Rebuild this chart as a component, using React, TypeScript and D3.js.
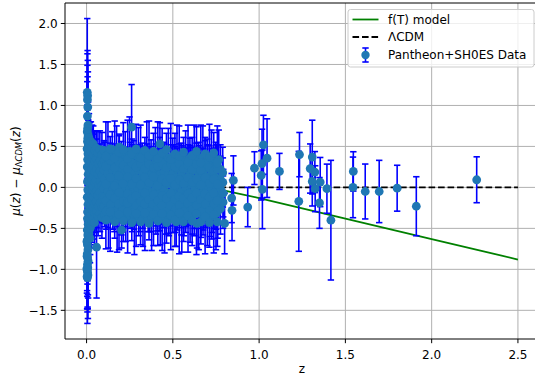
import React from 'react';
import * as d3 from 'd3';

const W = 535;
const H = 379;

const xTicks = [0, 0.5, 1.0, 1.5, 2.0, 2.5];
const yTicks = [-1.5, -1.0, -0.5, 0, 0.5, 1.0, 1.5, 2.0];

// f(T) model residual curve (hidden below the data for z < 0.8)
const modelZ = [0, 0.2, 0.4, 0.6, 0.8, 1.0, 1.5, 2.0, 2.5];
const modelMu = [0, 0.01, 0.01, -0.01, -0.04, -0.13, -0.38, -0.63, -0.88];

const lcdmZ = [0, 2.5];
const lcdmMu = [0, 0];

type P = [number, number, number]; // [z, mu - mu_LCDM, error]

// very low redshift column (z < 0.012)
const columnSNe: P[] = [
  [0.004, 1.16, 0.9], [0.006, 1.12, 0.55], [0.005, 1.07, 0.56], [0.007, 0.98, 0.57],
  [0.005, 0.87, 0.62], [0.008, 0.76, 0.65], [0.006, 0.72, 0.63], [0.004, 0.68, 0.61],
  [0.009, 0.64, 0.4], [0.007, 0.6, 0.35], [0.005, 0.56, 0.45], [0.01, 0.52, 0.3],
  [0.003, 0.47, 0.38], [0.008, 0.41, 0.42], [0.006, 0.34, 0.3], [0.004, 0.25, 0.35],
  [0.009, 0.16, 0.28], [0.005, 0.07, 0.32], [0.007, -0.03, 0.3], [0.004, -0.12, 0.34],
  [0.008, -0.21, 0.3], [0.006, -0.3, 0.36], [0.005, -0.38, 0.4], [0.009, -0.45, 0.38],
  [0.004, -0.52, 0.42], [0.007, -0.58, 0.45], [0.006, -0.64, 0.5], [0.005, -0.7, 0.48],
  [0.008, -0.76, 0.55], [0.004, -0.81, 0.52], [0.006, -0.86, 0.6], [0.009, -0.9, 0.45],
  [0.005, -0.94, 0.58], [0.007, -0.98, 0.5], [0.004, -1.01, 0.47], [0.006, -1.04, 0.44],
  [0.008, -1.07, 0.53], [0.005, -1.1, 0.56], [0.003, -1.09, 0.39], [0.002, -0.99, 0.3],
  [0.003, -0.84, 0.42], [0.002, -0.66, 0.36],
];

// 0.012 < z < 0.1
const lowSNe: P[] = [
  [0.014, 0.6, 0.3], [0.013, 0.47, 0.28], [0.015, 0.35, 0.25], [0.014, 0.22, 0.22], [0.016, 0.09, 0.24],
  [0.013, -0.04, 0.26], [0.015, -0.17, 0.23], [0.014, -0.3, 0.28], [0.016, -0.43, 0.3], [0.013, -0.56, 0.35],
  [0.019, 0.53, 0.26], [0.021, 0.41, 0.3], [0.02, 0.28, 0.22], [0.018, 0.15, 0.2], [0.021, 0.02, 0.25],
  [0.019, -0.11, 0.22], [0.02, -0.24, 0.27], [0.018, -0.37, 0.24], [0.021, -0.5, 0.32], [0.02, -0.62, 0.3],
  [0.025, 0.56, 0.24], [0.027, 0.44, 0.22], [0.026, 0.31, 0.26], [0.024, 0.18, 0.2], [0.027, 0.05, 0.23],
  [0.025, -0.08, 0.21], [0.026, -0.21, 0.25], [0.024, -0.33, 0.22], [0.027, -0.46, 0.28],
  [0.032, 0.49, 0.27], [0.034, 0.36, 0.21], [0.031, 0.23, 0.24], [0.033, 0.1, 0.2], [0.035, -0.03, 0.22],
  [0.032, -0.16, 0.19], [0.034, -0.28, 0.24], [0.031, -0.41, 0.26],
  [0.039, 0.53, 0.22], [0.041, 0.4, 0.25], [0.04, 0.27, 0.19], [0.042, 0.14, 0.21], [0.038, 0.01, 0.18],
  [0.041, -0.12, 0.22], [0.039, -0.25, 0.2], [0.042, -0.38, 0.25],
  [0.047, 0.45, 0.24], [0.049, 0.32, 0.2], [0.046, 0.19, 0.22], [0.048, 0.06, 0.18], [0.05, -0.07, 0.21],
  [0.047, -0.2, 0.19], [0.049, -0.32, 0.23], [0.046, -0.43, 0.27],
  [0.056, 0.48, 0.21], [0.058, 0.35, 0.24], [0.057, 0.22, 0.19], [0.055, 0.09, 0.2], [0.059, -0.04, 0.18],
  [0.056, -0.17, 0.22], [0.058, -0.29, 0.2], [0.058, -0.73, 0.62],
  [0.066, 0.42, 0.26], [0.068, 0.29, 0.19], [0.067, 0.16, 0.21], [0.069, 0.03, 0.17], [0.066, -0.1, 0.2],
  [0.068, -0.23, 0.18], [0.067, -0.35, 0.24],
  [0.077, 0.46, 0.23], [0.079, 0.33, 0.2], [0.078, 0.2, 0.18], [0.08, 0.07, 0.19], [0.077, -0.06, 0.17],
  [0.079, -0.19, 0.2], [0.078, -0.32, 0.22],
  [0.089, 0.4, 0.27], [0.091, 0.28, 0.21], [0.09, 0.15, 0.19], [0.088, 0.02, 0.18], [0.092, -0.11, 0.2],
  [0.09, -0.24, 0.19], [0.089, -0.37, 0.25],
];

// 0.1 < z < 0.5
const midSNe: P[] = [
  [0.101, 0.45, 0.12], [0.103, 0.33, 0.22], [0.102, 0.21, 0.18], [0.104, 0.1, 0.2], [0.101, -0.01, 0.17], [0.103, -0.12, 0.19], [0.102, -0.23, 0.21], [0.104, -0.34, 0.14],
  [0.124, 0.4, 0.4], [0.126, 0.28, 0.2], [0.125, 0.17, 0.18], [0.127, 0.06, 0.16], [0.124, -0.05, 0.19], [0.126, -0.16, 0.17], [0.125, -0.27, 0.22], [0.127, -0.38, 0.36],
  [0.149, 0.46, 0.22], [0.151, 0.34, 0.19], [0.15, 0.22, 0.21], [0.152, 0.11, 0.17], [0.149, 0.0, 0.18], [0.151, -0.11, 0.16], [0.15, -0.22, 0.2], [0.152, -0.33, 0.18],
  [0.174, 0.41, 0.34], [0.176, 0.29, 0.22], [0.175, 0.17, 0.18], [0.177, 0.06, 0.17], [0.174, -0.05, 0.16], [0.176, -0.16, 0.19], [0.175, -0.27, 0.21], [0.177, -0.37, 0.42],
  [0.19, 0.49, 0.16], [0.201, 0.35, 0.21], [0.2, 0.23, 0.19], [0.202, 0.11, 0.18], [0.199, 0.0, 0.17], [0.201, -0.11, 0.19], [0.2, -0.22, 0.2], [0.203, -0.52, 0.22], [0.202, -0.33, 0.25],
  [0.224, 0.4, 0.28], [0.226, 0.29, 0.2], [0.225, 0.18, 0.17], [0.227, 0.07, 0.18], [0.224, -0.04, 0.16], [0.226, -0.15, 0.19], [0.225, -0.26, 0.22], [0.227, -0.36, 0.3],
  [0.249, 0.44, 0.42], [0.251, 0.33, 0.22], [0.25, 0.21, 0.18], [0.252, 0.1, 0.19], [0.249, -0.01, 0.17], [0.251, -0.12, 0.2], [0.25, -0.23, 0.18], [0.252, -0.34, 0.16],
  [0.261, 0.735, 0.52],
  [0.274, 0.39, 0.18], [0.276, 0.28, 0.21], [0.275, 0.17, 0.19], [0.277, 0.06, 0.18], [0.274, -0.05, 0.17], [0.276, -0.16, 0.19], [0.275, -0.27, 0.24], [0.277, -0.37, 0.45],
  [0.3, 0.43, 0.3], [0.301, 0.32, 0.2], [0.3, 0.21, 0.19], [0.302, 0.1, 0.17], [0.299, -0.01, 0.18], [0.301, -0.12, 0.2], [0.3, -0.23, 0.21], [0.302, -0.35, 0.24],
  [0.324, 0.4, 0.14], [0.326, 0.28, 0.22], [0.325, 0.17, 0.18], [0.327, 0.06, 0.19], [0.324, -0.05, 0.17], [0.326, -0.16, 0.2], [0.325, -0.27, 0.23], [0.327, -0.38, 0.34],
  [0.349, 0.42, 0.38], [0.351, 0.32, 0.21], [0.35, 0.21, 0.2], [0.352, 0.1, 0.18], [0.349, -0.01, 0.19], [0.351, -0.12, 0.2], [0.35, -0.23, 0.22], [0.357, -0.39, 0.15],
  [0.374, 0.38, 0.2], [0.376, 0.27, 0.23], [0.375, 0.16, 0.19], [0.377, 0.05, 0.18], [0.374, -0.06, 0.2], [0.376, -0.17, 0.21], [0.375, -0.28, 0.26], [0.377, -0.37, 0.4],
  [0.399, 0.41, 0.32], [0.401, 0.31, 0.22], [0.4, 0.2, 0.2], [0.402, 0.09, 0.19], [0.399, -0.02, 0.18], [0.401, -0.13, 0.21], [0.4, -0.24, 0.23], [0.402, -0.35, 0.22],
  [0.425, 0.53, 0.26],
  [0.424, 0.37, 0.24], [0.426, 0.27, 0.21], [0.425, 0.16, 0.2], [0.427, 0.05, 0.19], [0.424, -0.06, 0.18], [0.426, -0.17, 0.22], [0.425, -0.28, 0.25], [0.427, -0.38, 0.32],
  [0.449, 0.4, 0.15], [0.451, 0.3, 0.23], [0.45, 0.19, 0.21], [0.452, 0.08, 0.19], [0.449, -0.03, 0.2], [0.451, -0.14, 0.22], [0.45, -0.25, 0.24], [0.452, -0.36, 0.44],
  [0.474, 0.36, 0.36], [0.476, 0.26, 0.22], [0.475, 0.15, 0.21], [0.477, 0.04, 0.2], [0.474, -0.07, 0.19], [0.476, -0.18, 0.23], [0.475, -0.29, 0.27], [0.477, -0.39, 0.2],
];

// 0.5 < z < 0.8
const highSNe: P[] = [
  [0.499, 0.38, 0.22], [0.501, 0.28, 0.24], [0.5, 0.17, 0.22], [0.502, 0.06, 0.21], [0.499, -0.05, 0.2], [0.501, -0.16, 0.23], [0.5, -0.27, 0.28], [0.52, -0.42, 0.3],
  [0.524, 0.34, 0.42], [0.526, 0.23, 0.25], [0.525, 0.12, 0.22], [0.527, 0.01, 0.21], [0.524, -0.1, 0.22], [0.526, -0.21, 0.25], [0.525, -0.32, 0.2],
  [0.549, 0.37, 0.17], [0.551, 0.27, 0.24], [0.55, 0.16, 0.23], [0.552, 0.05, 0.22], [0.549, -0.06, 0.21], [0.551, -0.17, 0.24], [0.55, -0.28, 0.3], [0.552, -0.37, 0.42],
  [0.574, 0.33, 0.36], [0.576, 0.22, 0.26], [0.575, 0.11, 0.23], [0.577, 0.0, 0.22], [0.574, -0.11, 0.23], [0.576, -0.22, 0.26], [0.575, -0.33, 0.22],
  [0.599, 0.36, 0.24], [0.601, 0.26, 0.25], [0.6, 0.15, 0.24], [0.602, 0.04, 0.23], [0.599, -0.07, 0.22], [0.601, -0.18, 0.25], [0.6, -0.29, 0.38],
  [0.624, 0.32, 0.44], [0.626, 0.21, 0.27], [0.625, 0.1, 0.24], [0.627, -0.01, 0.23], [0.624, -0.12, 0.24], [0.626, -0.23, 0.27], [0.625, -0.33, 0.26],
  [0.64, -0.44, 0.3],
  [0.649, 0.35, 0.2], [0.651, 0.25, 0.26], [0.65, 0.14, 0.25], [0.652, 0.03, 0.24], [0.649, -0.08, 0.23], [0.651, -0.19, 0.26], [0.65, -0.3, 0.46],
  [0.674, 0.37, 0.38], [0.676, 0.2, 0.27], [0.675, 0.09, 0.25], [0.677, -0.02, 0.24], [0.674, -0.13, 0.25], [0.676, -0.24, 0.28], [0.675, -0.34, 0.24],
  [0.699, 0.33, 0.26], [0.701, 0.24, 0.28], [0.7, 0.13, 0.26], [0.702, 0.02, 0.25], [0.699, -0.09, 0.24], [0.701, -0.2, 0.27], [0.7, -0.31, 0.4],
  [0.724, 0.3, 0.4], [0.726, 0.19, 0.28], [0.725, 0.08, 0.26], [0.727, -0.03, 0.25], [0.724, -0.14, 0.26], [0.726, -0.25, 0.3], [0.725, -0.35, 0.28],
  [0.749, 0.33, 0.22], [0.751, 0.23, 0.29], [0.75, 0.12, 0.27], [0.752, 0.01, 0.26], [0.749, -0.1, 0.27], [0.751, -0.21, 0.3], [0.75, -0.32, 0.44],
  [0.766, 0.34, 0.36], [0.776, 0.22, 0.3], [0.775, 0.1, 0.28], [0.777, -0.02, 0.27], [0.774, -0.14, 0.28], [0.776, -0.26, 0.31],
  [0.79, 0.06, 0.3], [0.792, -0.07, 0.29], [0.791, -0.18, 0.32], [0.789, 0.18, 0.31],
];

// points between the columns above, inside the dense band
const innerSNe: P[] = [
  [0.112, 0.26, 0.2], [0.113, 0.04, 0.17], [0.111, -0.16, 0.19], [0.114, -0.29, 0.22],
  [0.137, 0.33, 0.21], [0.138, 0.12, 0.18], [0.136, -0.09, 0.17], [0.139, -0.21, 0.2],
  [0.163, 0.24, 0.22], [0.162, 0.02, 0.16], [0.164, -0.13, 0.18], [0.161, -0.3, 0.24],
  [0.188, 0.31, 0.2], [0.187, 0.14, 0.17], [0.189, -0.06, 0.18], [0.186, -0.2, 0.21],
  [0.213, 0.27, 0.21], [0.212, 0.05, 0.18], [0.214, -0.17, 0.17], [0.211, -0.28, 0.26],
  [0.238, 0.22, 0.19], [0.237, 0.13, 0.16], [0.239, -0.08, 0.2], [0.236, -0.19, 0.22],
  [0.262, 0.3, 0.22], [0.263, 0.04, 0.17], [0.261, -0.14, 0.19], [0.264, -0.31, 0.23],
  [0.287, 0.25, 0.2], [0.288, 0.11, 0.18], [0.286, -0.1, 0.17], [0.289, -0.22, 0.24],
  [0.313, 0.29, 0.21], [0.312, 0.03, 0.19], [0.314, -0.17, 0.2], [0.311, -0.29, 0.25],
  [0.338, 0.23, 0.22], [0.337, 0.12, 0.17], [0.339, -0.07, 0.18], [0.336, -0.2, 0.21],
  [0.362, 0.28, 0.2], [0.363, 0.06, 0.18], [0.361, -0.15, 0.19], [0.364, -0.3, 0.24],
  [0.388, 0.24, 0.23], [0.387, 0.13, 0.19], [0.389, -0.09, 0.2], [0.386, -0.21, 0.22],
  [0.413, 0.26, 0.21], [0.412, 0.02, 0.2], [0.414, -0.16, 0.21], [0.411, -0.27, 0.26],
  [0.438, 0.29, 0.22], [0.437, 0.1, 0.2], [0.439, -0.1, 0.19], [0.436, -0.22, 0.23],
  [0.463, 0.24, 0.23], [0.462, 0.06, 0.2], [0.464, -0.13, 0.21], [0.461, -0.3, 0.27],
  [0.488, 0.28, 0.24], [0.487, 0.11, 0.21], [0.489, -0.08, 0.2], [0.486, -0.22, 0.25],
  [0.512, 0.25, 0.25], [0.513, 0.03, 0.22], [0.511, -0.15, 0.23], [0.514, -0.27, 0.28],
  [0.537, 0.29, 0.24], [0.538, 0.09, 0.23], [0.536, -0.11, 0.22], [0.539, -0.22, 0.27],
  [0.562, 0.23, 0.26], [0.563, 0.05, 0.23], [0.561, -0.14, 0.24], [0.564, -0.3, 0.29],
  [0.588, 0.27, 0.25], [0.587, 0.12, 0.24], [0.589, -0.08, 0.23], [0.586, -0.19, 0.27],
  [0.612, 0.22, 0.27], [0.613, 0.06, 0.24], [0.611, -0.13, 0.25], [0.614, -0.27, 0.3],
  [0.637, 0.28, 0.26], [0.638, 0.1, 0.25], [0.636, -0.07, 0.24], [0.639, -0.22, 0.28],
  [0.662, 0.21, 0.27], [0.663, 0.03, 0.25], [0.661, -0.15, 0.26], [0.664, -0.3, 0.31],
  [0.687, 0.29, 0.28], [0.688, 0.12, 0.26], [0.686, -0.08, 0.25], [0.689, -0.2, 0.29],
  [0.712, 0.24, 0.27], [0.713, 0.05, 0.26], [0.711, -0.12, 0.27], [0.714, -0.28, 0.32],
  [0.737, 0.2, 0.28], [0.738, 0.1, 0.27], [0.736, -0.07, 0.26], [0.739, -0.2, 0.3],
  [0.758, 0.22, 0.3], [0.759, 0.04, 0.28], [0.757, -0.16, 0.29], [0.76, -0.29, 0.33],
];

// scattered points along the upper and lower edges of the dense band
const edgeSNe: P[] = [
  [0.112, 0.38, 0.42], [0.137, 0.47, 0.15], [0.163, 0.36, 0.45], [0.188, 0.43, 0.2], [0.213, 0.46, 0.33],
  [0.238, 0.35, 0.47], [0.262, 0.41, 0.18], [0.287, 0.47, 0.3], [0.313, 0.36, 0.4], [0.338, 0.45, 0.16],
  [0.362, 0.39, 0.42], [0.388, 0.44, 0.22], [0.413, 0.35, 0.45], [0.438, 0.42, 0.3], [0.463, 0.46, 0.2],
  [0.488, 0.34, 0.44], [0.512, 0.41, 0.25], [0.537, 0.38, 0.37], [0.562, 0.43, 0.18], [0.588, 0.31, 0.45],
  [0.612, 0.39, 0.22], [0.637, 0.44, 0.3], [0.662, 0.3, 0.46], [0.687, 0.41, 0.2], [0.712, 0.37, 0.4],
  [0.737, 0.42, 0.25], [0.758, 0.3, 0.45],
  [0.112, -0.4, 0.35], [0.137, -0.3, 0.48], [0.163, -0.42, 0.2], [0.188, -0.33, 0.43], [0.213, -0.41, 0.25],
  [0.238, -0.3, 0.5], [0.262, -0.43, 0.22], [0.287, -0.32, 0.4], [0.313, -0.42, 0.28], [0.338, -0.31, 0.46],
  [0.362, -0.44, 0.2], [0.388, -0.33, 0.38], [0.413, -0.41, 0.3], [0.438, -0.32, 0.45], [0.463, -0.43, 0.25],
  [0.488, -0.34, 0.42], [0.512, -0.4, 0.32], [0.537, -0.31, 0.5], [0.562, -0.42, 0.24], [0.588, -0.35, 0.44],
  [0.612, -0.41, 0.3], [0.637, -0.32, 0.5], [0.662, -0.42, 0.27], [0.687, -0.36, 0.45], [0.712, -0.43, 0.3],
  [0.737, -0.33, 0.47], [0.758, -0.42, 0.3],
];

// sparse high-redshift points
const distantSNe: P[] = [
  [0.851, 0.085, 0.3], [0.841, -0.13, 0.3], [0.843, -0.28, 0.37], [0.8, -0.44, 0.37],
  [0.934, -0.24, 0.24], [0.973, 0.235, 0.2], [1.012, 0.146, 0.3], [1.019, -0.024, 0.48],
  [1.025, 0.52, 0.36], [1.017, 0.29, 0.42], [1.046, 0.357, 0.48], [1.118, 0.195, 0.22],
  [1.234, 0.4, 0.27], [1.23, -0.17, 0.61], [1.308, 0.37, 0.45], [1.296, 0.23, 0.3],
  [1.308, 0.073, 0.3], [1.323, 0.187, 0.25], [1.325, -0.016, 0.28], [1.35, -0.19, 0.31],
  [1.354, 0.065, 0.3], [1.393, -0.016, 0.3], [1.416, -0.4, 0.73], [1.546, 0.195, 0.24],
  [1.544, 0.0, 0.37], [1.615, -0.05, 0.335], [1.696, -0.05, 0.38], [1.8, -0.01, 0.28],
  [1.911, -0.23, 0.36], [2.261, 0.093, 0.28],
];

const FONT = "'DejaVu Sans', sans-serif";
const DATA_COLOR = '#1f77b4';
const BAR_COLOR = '#0000ff';

export default function App() {
  const x = d3.scaleLinear().domain([-0.125, 2.625]).range([65, 539.5]);
  const y = d3.scaleLinear().domain([-1.85, 2.25]).range([339, 3]);
  const fmt = d3.format('.1f');

  const line = d3
    .line<number>()
    .x((_, i) => x(modelZ[i]))
    .y((d) => y(d));
  const lcdmLine = d3
    .line<number>()
    .x((_, i) => x(lcdmZ[i]))
    .y((d) => y(d));

  const all: P[] = [
    ...columnSNe, ...lowSNe, ...midSNe, ...highSNe, ...innerSNe, ...edgeSNe, ...distantSNe,
  ];
  const cap = 3.2;
  const r = 4.4;

  const left = 65, top = 3, bottom = 339;

  return (
    <svg
      width={W}
      height={H}
      style={{ position: 'absolute', left: 0, top: 0, background: '#fff' }}
      fontFamily={FONT}
    >
      <rect x={0} y={0} width={W} height={H} fill="#fff" />
      {/* grid */}
      <g stroke="#b0b0b0" strokeWidth={1}>
        {xTicks.map((t) => (
          <line key={'gx' + t} x1={x(t)} x2={x(t)} y1={top} y2={bottom} />
        ))}
        {yTicks.map((t) => (
          <line key={'gy' + t} x1={left} x2={W} y1={y(t)} y2={y(t)} />
        ))}
      </g>
      {/* model lines */}
      <path d={line(modelMu) || ''} fill="none" stroke="#008000" strokeWidth={1.8} />
      <path
        d={lcdmLine(lcdmMu) || ''}
        fill="none"
        stroke="#000"
        strokeWidth={1.8}
        strokeDasharray="6.6 2.9"
      />
      {/* error bars */}
      <g stroke={BAR_COLOR} strokeWidth={1.6}>
        {all.map((p, i) => {
          const px = x(p[0]);
          const y1 = y(p[1] + p[2]);
          const y2 = y(p[1] - p[2]);
          return (
            <g key={'e' + i}>
              <line x1={px} x2={px} y1={y1} y2={y2} />
              <line x1={px - cap} x2={px + cap} y1={y1} y2={y1} />
              <line x1={px - cap} x2={px + cap} y1={y2} y2={y2} />
            </g>
          );
        })}
      </g>
      {/* markers */}
      <g fill={DATA_COLOR}>
        {all.map((p, i) => (
          <circle key={'m' + i} cx={x(p[0])} cy={y(p[1])} r={r} />
        ))}
      </g>
      {/* spines */}
      <g stroke="#000" strokeWidth={1} fill="none">
        <line x1={left} x2={left} y1={top} y2={bottom} />
        <line x1={left} x2={W} y1={top} y2={top} />
        <line x1={left} x2={W} y1={bottom} y2={bottom} />
      </g>
      {/* ticks */}
      <g stroke="#000" strokeWidth={1}>
        {xTicks.map((t) => (
          <line key={'tx' + t} x1={x(t)} x2={x(t)} y1={bottom} y2={bottom + 4.2} />
        ))}
        {yTicks.map((t) => (
          <line key={'ty' + t} x1={left - 4.2} x2={left} y1={y(t)} y2={y(t)} />
        ))}
      </g>
      <g fontSize={12} fill="#000">
        {xTicks.map((t) => (
          <text key={'lx' + t} x={x(t)} y={358.6} textAnchor="middle">
            {fmt(t)}
          </text>
        ))}
        {yTicks.map((t) => (
          <text key={'ly' + t} x={57.6} y={y(t) + 4.4} textAnchor="end">
            {fmt(t)}
          </text>
        ))}
      </g>
      <text x={302} y={373} fontSize={12} textAnchor="middle">
        z
      </text>
      <text
        transform={`translate(19.5, 171) rotate(-90)`}
        fontSize={12}
        textAnchor="middle"
      >
        <tspan fontStyle="italic">μ</tspan>
        <tspan>(</tspan>
        <tspan fontStyle="italic">z</tspan>
        <tspan>) − </tspan>
        <tspan fontStyle="italic">μ</tspan>
        <tspan fontSize={8.4} dy={2.2}>Λ</tspan>
        <tspan fontSize={8.4} fontStyle="italic">CDM</tspan>
        <tspan dy={-2.2}>(</tspan>
        <tspan fontStyle="italic">z</tspan>
        <tspan>)</tspan>
      </text>
      {/* legend */}
      <g>
        <rect
          x={348}
          y={9.5}
          width={186}
          height={57.5}
          rx={2.5}
          fill="#fff"
          fillOpacity={0.8}
          stroke="#cccccc"
          strokeWidth={1}
        />
        <line x1={352.5} x2={378.5} y1={19.5} y2={19.5} stroke="#008000" strokeWidth={1.8} />
        <line
          x1={352.5}
          x2={378.5}
          y1={37}
          y2={37}
          stroke="#000"
          strokeWidth={1.8}
          strokeDasharray="6.6 2.9"
        />
        <g stroke={BAR_COLOR} strokeWidth={1.6}>
          <line x1={365.5} x2={365.5} y1={48} y2={62} />
          <line x1={362.3} x2={368.7} y1={48} y2={48} />
          <line x1={362.3} x2={368.7} y1={62} y2={62} />
        </g>
        <circle cx={365.5} cy={55} r={4.2} fill={DATA_COLOR} />
        <g fontSize={12} fill="#000">
          <text x={388} y={23.8}>f(T) model</text>
          <text x={388} y={41.3}>ΛCDM</text>
          <text x={388} y={59.3}>Pantheon+SH0ES Data</text>
        </g>
      </g>
    </svg>
  );
}
